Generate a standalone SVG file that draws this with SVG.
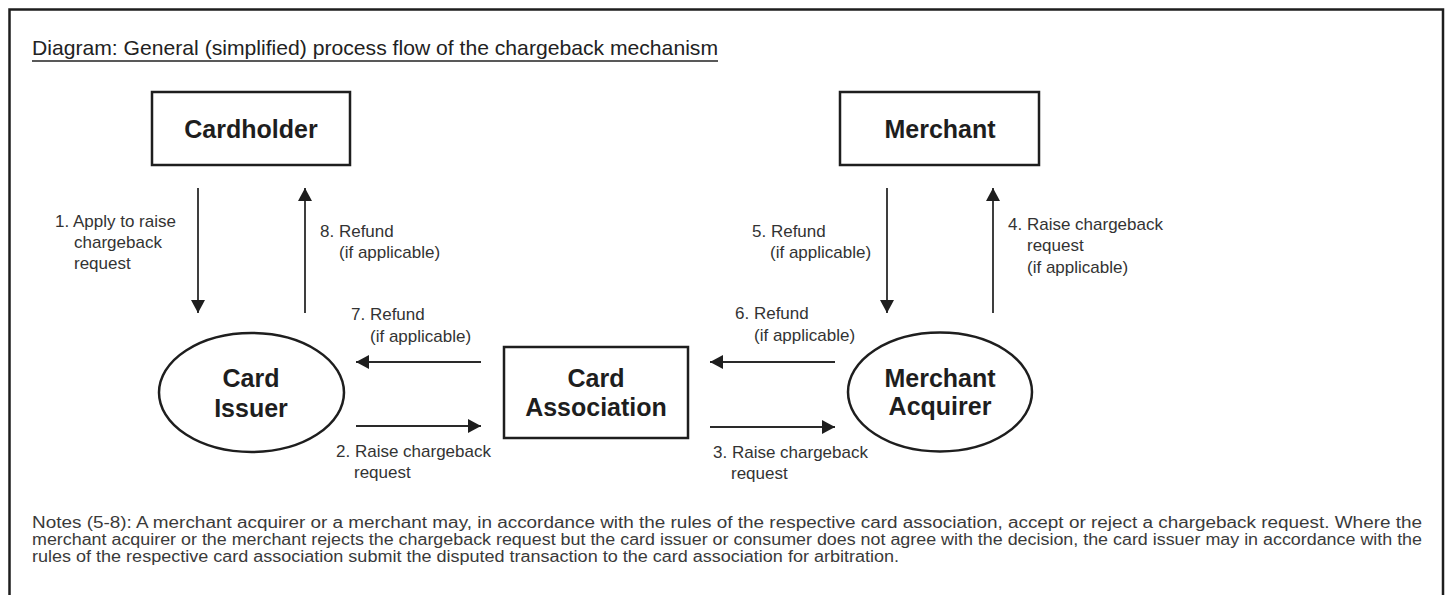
<svg xmlns="http://www.w3.org/2000/svg" width="1450" height="595" viewBox="0 0 1450 595">
  <style>
    .frame { fill: none; stroke: #1e1e1e; stroke-width: 2.5; }
    .box { fill: #ffffff; stroke: #1e1e1e; stroke-width: 2.5; }
    .node { font-family: "Liberation Sans", Arial, sans-serif; font-weight: bold; font-size: 25px; fill: #1e1e1e; text-anchor: middle; }
    .lbl { font-family: "Liberation Sans", Arial, sans-serif; font-size: 17px; fill: #333333; }
    .title { font-family: "Liberation Sans", Arial, sans-serif; font-size: 21px; fill: #222222; }
    .note { font-family: "Liberation Sans", Arial, sans-serif; font-size: 16px; fill: #3a3a3a; }
    .conn { stroke: #2a2a2a; stroke-width: 1.8; fill: none; }
  </style>
  <defs>
    <marker id="arrow" markerUnits="userSpaceOnUse" markerWidth="14" markerHeight="14" refX="13" refY="7" orient="auto">
      <path d="M0,0 L13,7 L0,14 Z" fill="#1e1e1e"/>
    </marker>
  </defs>
  <rect width="1450" height="595" fill="#ffffff"/>
  <rect class="frame" x="9.5" y="9.5" width="1433.5" height="600"/>

  <g id="title">
    <text class="title" x="32" y="55" textLength="686" lengthAdjust="spacingAndGlyphs">Diagram: General (simplified) process flow of the chargeback mechanism</text>
    <line x1="32" y1="61" x2="718" y2="61" stroke="#222222" stroke-width="1.3"/>
  </g>

  <g id="cardholder">
    <rect class="box" x="152" y="92" width="198" height="73"/>
    <text class="node" x="251" y="138">Cardholder</text>
  </g>
  <g id="merchant">
    <rect class="box" x="840" y="92" width="199" height="73"/>
    <text class="node" x="940" y="138">Merchant</text>
  </g>
  <g id="card-issuer">
    <ellipse class="box" cx="251.5" cy="392.5" rx="92.5" ry="59.5"/>
    <text class="node" x="251" y="387">Card</text>
    <text class="node" x="251" y="417">Issuer</text>
  </g>
  <g id="card-association">
    <rect class="box" x="504" y="347" width="184" height="91"/>
    <text class="node" x="596" y="387">Card</text>
    <text class="node" x="596" y="416">Association</text>
  </g>
  <g id="merchant-acquirer">
    <ellipse class="box" cx="940" cy="392" rx="92" ry="59.5"/>
    <text class="node" x="940" y="387">Merchant</text>
    <text class="node" x="940" y="415">Acquirer</text>
  </g>

  <g id="connectors">
    <line class="conn" x1="198" y1="188" x2="198" y2="313" marker-end="url(#arrow)"/>
    <line class="conn" x1="305" y1="313" x2="305" y2="188" marker-end="url(#arrow)"/>
    <line class="conn" x1="887" y1="188" x2="887" y2="313" marker-end="url(#arrow)"/>
    <line class="conn" x1="993" y1="313" x2="993" y2="188" marker-end="url(#arrow)"/>
    <line class="conn" x1="481" y1="362" x2="356" y2="362" marker-end="url(#arrow)"/>
    <line class="conn" x1="356" y1="426" x2="481" y2="426" marker-end="url(#arrow)"/>
    <line class="conn" x1="835" y1="362" x2="710" y2="362" marker-end="url(#arrow)"/>
    <line class="conn" x1="710" y1="427" x2="835" y2="427" marker-end="url(#arrow)"/>
  </g>

  <g id="labels">
    <text class="lbl" x="55" y="227">1. Apply to raise</text>
    <text class="lbl" x="74" y="248">chargeback</text>
    <text class="lbl" x="74" y="269">request</text>

    <text class="lbl" x="320" y="237">8. Refund</text>
    <text class="lbl" x="339" y="258">(if applicable)</text>

    <text class="lbl" x="351" y="320">7. Refund</text>
    <text class="lbl" x="370" y="342">(if applicable)</text>

    <text class="lbl" x="336" y="457">2. Raise chargeback</text>
    <text class="lbl" x="354" y="478">request</text>

    <text class="lbl" x="735" y="319">6. Refund</text>
    <text class="lbl" x="754" y="341">(if applicable)</text>

    <text class="lbl" x="713" y="458">3. Raise chargeback</text>
    <text class="lbl" x="731" y="479">request</text>

    <text class="lbl" x="752" y="237">5. Refund</text>
    <text class="lbl" x="770" y="258">(if applicable)</text>

    <text class="lbl" x="1008" y="230">4. Raise chargeback</text>
    <text class="lbl" x="1027" y="251">request</text>
    <text class="lbl" x="1027" y="273">(if applicable)</text>
  </g>

  <g id="notes">
    <text class="note" x="32" y="528" textLength="1390" lengthAdjust="spacingAndGlyphs">Notes (5-8): A merchant acquirer or a merchant may, in accordance with the rules of the respective card association, accept or reject a chargeback request. Where the</text>
    <text class="note" x="32" y="545" textLength="1390" lengthAdjust="spacingAndGlyphs">merchant acquirer or the merchant rejects the chargeback request but the card issuer or consumer does not agree with the decision, the card issuer may in accordance with the</text>
    <text class="note" x="32" y="562" textLength="867" lengthAdjust="spacingAndGlyphs">rules of the respective card association submit the disputed transaction to the card association for arbitration.</text>
  </g>
</svg>
